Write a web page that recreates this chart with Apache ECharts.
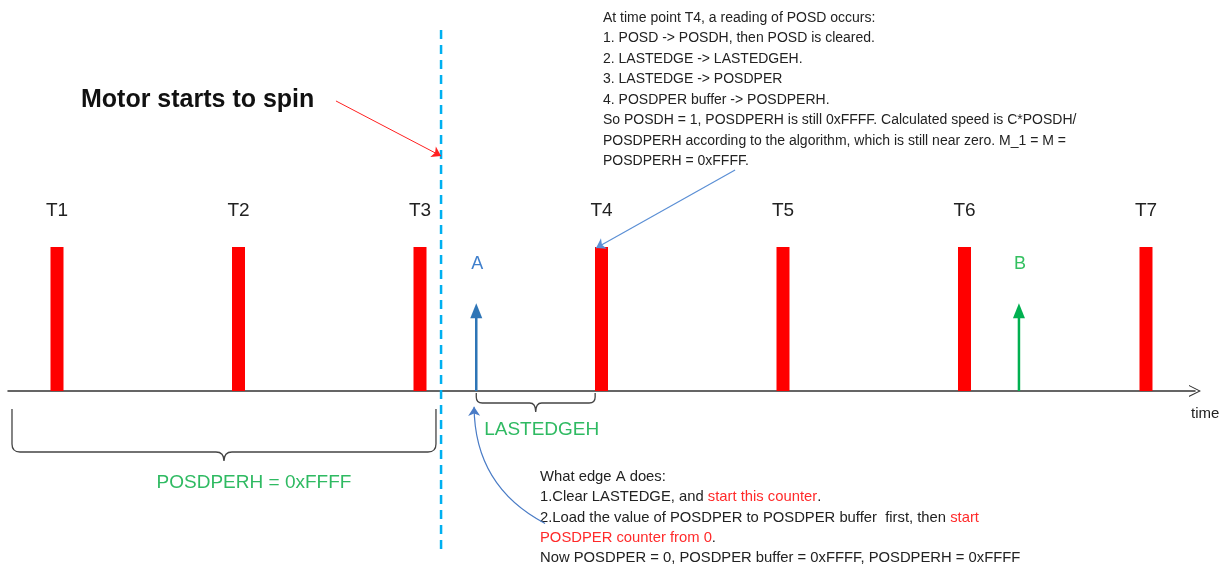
<!DOCTYPE html>
<html>
<head>
<meta charset="utf-8">
<title>POSD timing</title>
<script src="https://cdn.jsdelivr.net/npm/echarts@6/dist/echarts.min.js"></script>
<style>
    html, body { margin: 0; padding: 0; background: #fff; }
    #chart { width: 1230px; height: 569px; }
</style>
</head>
<body>
<div id="chart"></div>
<script>
// 时间轴上的脉冲 T1..T7
var pulseTimes = [1, 2, 3, 4, 5, 6, 7];
var pulseLabels = ['T1', 'T2', 'T3', 'T4', 'T5', 'T6', 'T7'];
var pulseHeights = [1, 1, 1, 1, 1, 1, 1];

// 边沿 A / B
var edgeTimes = [3.31, 6.30];
var edgeLabels = ['A', 'B'];
var edgeHeights = [0.61, 0.61];

// 电机开始转动的时刻
var motorStart = 3.116;
var axisRange = [0.73, 7.27];
var valueRange = [-1.236, 2.715];

// 括号区间
var braceSpans = [[3.31, 3.965], [0.752, 3.088]];
var braceLabels = ['LASTEDGEH', 'POSDPERH = 0xFFFF'];

var FONT = '"Liberation Sans", Arial, sans-serif';
var GREEN_TXT = '#2fba62';

var chart = echarts.init(document.getElementById('chart'));

function pulseItem(params, api) {
    var top = api.coord([api.value(0), api.value(1)]);
    var base = api.coord([api.value(0), 0]);
    return {
        type: 'group',
        children: [{
            type: 'rect',
            shape: { x: top[0] - 6.5, y: top[1], width: 13, height: base[1] - top[1] },
            style: { fill: '#ff0000' }
        }, {
            type: 'text',
            style: {
                text: pulseLabels[params.dataIndex],
                x: top[0], y: top[1] - 36,
                align: 'center', verticalAlign: 'middle',
                font: '19px ' + FONT, fill: '#222'
            }
        }]
    };
}

var edgeColors = ['#2e75b6', '#00b050'];
var edgeTextColors = ['#3f7fcc', '#33c060'];

function edgeItem(params, api) {
    var i = params.dataIndex;
    var top = api.coord([api.value(0), api.value(1)]);
    var base = api.coord([api.value(0), 0]);
    var c = edgeColors[i];
    return {
        type: 'group',
        children: [{
            type: 'line',
            shape: { x1: base[0], y1: base[1], x2: top[0], y2: top[1] + 12 },
            style: { stroke: c, lineWidth: 2.5 }
        }, {
            type: 'polygon',
            shape: { points: [[top[0], top[1]], [top[0] - 6, top[1] + 15], [top[0] + 6, top[1] + 15]] },
            style: { fill: c }
        }, {
            type: 'text',
            style: {
                text: edgeLabels[i],
                x: top[0] + 1, y: top[1] - 39,
                align: 'center', verticalAlign: 'middle',
                font: '18px ' + FONT, fill: edgeTextColors[i]
            }
        }]
    };
}

// 括号: 顶部偏移, 横线位置, 尖端, 文字位置 (像素)
var braceShape = [
    { top: 2, mid: 12, tip: 21, r: 6, labelY: 39, labelDx: 6 },
    { top: 18, mid: 61, tip: 70, r: 8, labelY: 92, labelDx: 30 }
];

function braceItem(params, api) {
    var s = braceShape[params.dataIndex];
    var a = api.coord([api.value(0), 0]);
    var b = api.coord([api.value(1), 0]);
    var y0 = a[1] + s.top, ym = a[1] + s.mid, yt = a[1] + s.tip;
    var x1 = a[0], x2 = b[0], xc = (x1 + x2) / 2, r = s.r;
    var path = 'M' + x1 + ',' + y0 + ' L' + x1 + ',' + (ym - r) +
        ' Q' + x1 + ',' + ym + ' ' + (x1 + r) + ',' + ym +
        ' L' + (xc - r) + ',' + ym +
        ' Q' + xc + ',' + ym + ' ' + xc + ',' + yt +
        ' Q' + xc + ',' + ym + ' ' + (xc + r) + ',' + ym +
        ' L' + (x2 - r) + ',' + ym +
        ' Q' + x2 + ',' + ym + ' ' + x2 + ',' + (ym - r) +
        ' L' + x2 + ',' + y0;
    return {
        type: 'group',
        children: [{
            type: 'path',
            shape: { pathData: path },
            style: { stroke: '#444', lineWidth: 1.3, fill: null }
        }, {
            type: 'text',
            style: {
                text: braceLabels[params.dataIndex],
                x: xc + s.labelDx, y: a[1] + s.labelY,
                align: 'center', verticalAlign: 'middle',
                font: '19px ' + FONT, fill: GREEN_TXT
            }
        }]
    };
}

var topNote = [
    'At time point T4, a reading of POSD occurs:',
    '1. POSD -> POSDH, then POSD is cleared.',
    '2. LASTEDGE -> LASTEDGEH.',
    '3. LASTEDGE -> POSDPER',
    '4. POSDPER buffer -> POSDPERH.',
    'So POSDH = 1, POSDPERH is still 0xFFFF. Calculated speed is C*POSDH/',
    'POSDPERH according to the algorithm, which is still near zero. M_1 = M =',
    'POSDPERH = 0xFFFF.'
];

var bottomNote = [
    'What edge A does:',
    '1.Clear LASTEDGE, and {r|start this counter}.',
    '2.Load the value of POSDPER to POSDPER buffer  first, then {r|start}',
    '{r|POSDPER counter from 0}.',
    'Now POSDPER = 0, POSDPER buffer = 0xFFFF, POSDPERH = 0xFFFF'
];

var option = {
    animation: false,
    grid: { left: 8, right: 35, top: 0, bottom: 0 },
    xAxis: {
        type: 'value',
        min: axisRange[0],
        max: axisRange[1],
        axisLine: {
            onZero: true,
            symbol: ['none', 'path://M0,16 L8,0 L16,16 L14.5,16 L8,3 L1.5,16 Z'],
            symbolSize: [16, 12],
            lineStyle: { color: '#333', width: 1.5 }
        },
        axisTick: { show: false },
        axisLabel: { show: false },
        splitLine: { show: false }
    },
    yAxis: {
        type: 'value',
        min: valueRange[0],
        max: valueRange[1],
        show: false,
        splitLine: { show: false }
    },
    graphic: [{
        type: 'text',
        x: 81, y: 100,
        style: { text: 'Motor starts to spin', verticalAlign: 'middle', font: 'bold 25px ' + FONT, fill: '#111' }
    }, {
        type: 'text',
        x: 603, y: 7.5,
        style: { text: topNote.join('\n'), verticalAlign: 'top', font: '14px ' + FONT, lineHeight: 20.5, fill: '#222' }
    }, {
        type: 'text',
        x: 540, y: 467,
        style: {
            text: bottomNote.join('\n'),
            verticalAlign: 'top',
            font: '14.8px ' + FONT, lineHeight: 20.2, fill: '#222',
            rich: { r: { fill: '#ff2a2a', font: '14.8px ' + FONT, lineHeight: 20.2 } }
        }
    }, {
        type: 'text',
        x: 1191, y: 414,
        style: { text: 'time', verticalAlign: 'middle', font: '15px ' + FONT, fill: '#222' }
    }],
    series: [{
        type: 'line',
        data: [[motorStart, 2.507], [motorStart, -1.139]],
        symbol: 'none',
        lineStyle: { color: '#00b0f0', width: 2.5, type: [9, 6] },
        z: 1
    }, {
        type: 'custom',
        renderItem: pulseItem,
        data: pulseTimes.map(function (t, i) { return [t, pulseHeights[i]]; }),
        z: 3
    }, {
        type: 'custom',
        renderItem: edgeItem,
        data: edgeTimes.map(function (t, i) { return [t, edgeHeights[i]]; }),
        z: 3
    }, {
        type: 'custom',
        renderItem: braceItem,
        data: braceSpans,
        z: 2
    }, {
        // 指示箭头
        type: 'lines',
        coordinateSystem: 'cartesian2d',
        symbol: ['none', 'arrow'],
        symbolSize: 9,
        data: [{
            coords: [[2.537, 2.014], [3.116, 1.632]],
            lineStyle: { color: '#ff2020', width: 1, opacity: 1 }
        }, {
            coords: [[4.736, 1.535], [3.97, 0.993]],
            lineStyle: { color: '#5b8fd5', width: 1.2, opacity: 1 }
        }, {
            coords: [[3.689, -0.92], [3.298, -0.11]],
            lineStyle: { color: '#4a7cc6', width: 1.2, opacity: 1, curveness: 0.3 }
        }],
        z: 4
    }]
};
chart.setOption(option);
</script>
</body>
</html>
